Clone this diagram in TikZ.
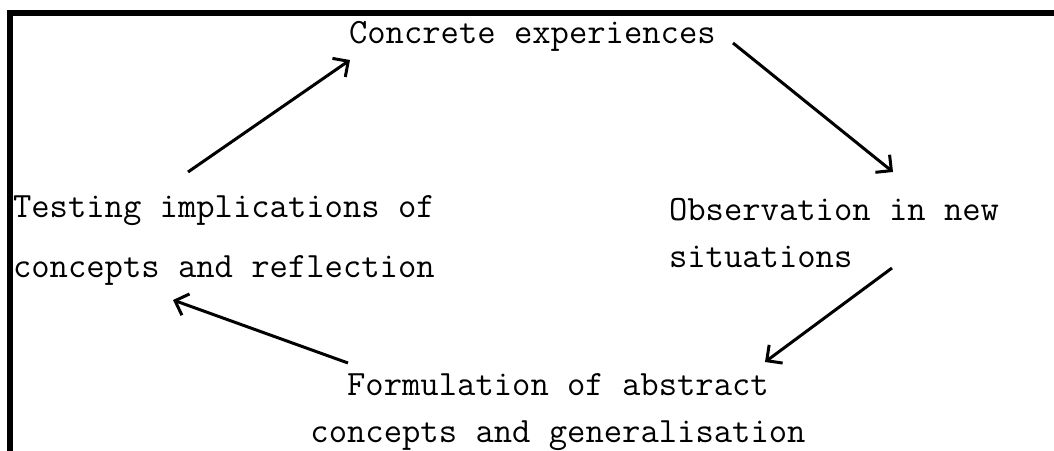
\documentclass[tikz,border=0pt]{standalone}
\usepackage{fontspec}
\usetikzlibrary{arrows.meta}

\begin{document}
\begin{tikzpicture}[x=0.5pt,y=-0.5pt]
        \tikzset{
          stage/.style={
            font=\ttfamily\fontsize{17.8pt}{23.5pt}\selectfont,
            inner sep=0pt,
            outer sep=0pt,
          },
          cycle arrow/.style={
            -{Straight Barb[length=5.7pt,width=11.3pt]},
            line width=1.5pt,
          },
        }
        \useasboundingbox (0,0) rectangle (1054,450);
        % frame
        \draw[line width=3pt] (10,470) -- (10,13) -- (1074,13);

        % base anchor sits on the last line
        \node[stage, anchor=base west] (ce) at (349,43) {Concrete experiences};
        \node[stage, anchor=base west, align=left] (obs) at (669,267)
          {Observation in new\\situations};
        \node[stage, anchor=base, align=center] (form) at (558,442)
          {Formulation of abstract\\concepts and generalisation};
        \node[stage, anchor=base west, align=left] (test) at (13,277)
          {Testing implications of\\[6.5pt]concepts and reflection};

        \coordinate (test-out) at (188,172);
        \coordinate (ce-in) at (350,60);
        \coordinate (ce-out) at (733,43);
        \coordinate (obs-in) at (893,172);
        \coordinate (obs-out) at (892,268);
        \coordinate (form-in) at (765,362);
        \coordinate (form-out) at (348,363);
        \coordinate (test-in) at (173,300);

        \draw[cycle arrow] (test-out) -- (ce-in);
        \draw[cycle arrow] (ce-out) -- (obs-in);
        \draw[cycle arrow] (obs-out) -- (form-in);
        \draw[cycle arrow] (form-out) -- (test-in);
\end{tikzpicture}
\end{document}
